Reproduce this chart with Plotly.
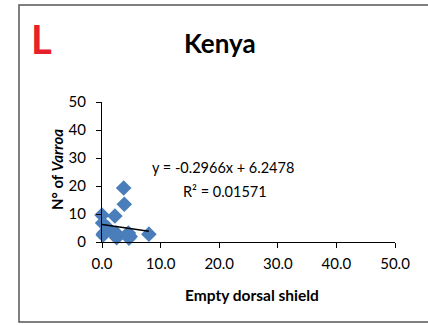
import plotly.graph_objects as go

# Data
empty_dorsal_shield = [0.0, 0.1, 0.3, 0.2, 1.0, 0.8, 0.5, 2.2, 2.4, 2.5, 2.3, 3.7, 3.8, 4.5, 4.6, 4.4, 4.8, 8.0]
n_varroa = [9.6, 6.8, 3.0, 2.5, 5.0, 4.0, 3.5, 9.3, 3.2, 1.5, 2.5, 19.3, 13.5, 3.2, 1.4, 2.5, 2.0, 2.8]
trend_slope = -0.2966
trend_intercept = 6.2478
r_squared = 0.01571
x_ticks = [0, 10, 20, 30, 40, 50]
x_tick_labels = ["0.0", "10.0", "20.0", "30.0", "40.0", "50.0"]
y_ticks = [0, 10, 20, 30, 40, 50]

FONT = "Lato"
W, H = 428, 325
L, R, T, B = 102, 33, 102, 83
pw, ph = W - L - R, H - T - B

def px(xpix):
    return (xpix - L) / pw

def py(ypix):
    return (H - B - ypix) / ph

trend_x = [min(empty_dorsal_shield), max(empty_dorsal_shield)]
trend_y = [trend_slope * v + trend_intercept for v in trend_x]

fig = go.Figure()
fig.add_trace(go.Scatter(
    x=empty_dorsal_shield, y=n_varroa, mode="markers",
    marker=dict(symbol="diamond", size=12, color="#4A7EBB"),
    showlegend=False, cliponaxis=False,
))
fig.add_trace(go.Scatter(
    x=trend_x, y=trend_y, mode="lines",
    line=dict(color="black", width=1.5), showlegend=False,
))

fig.update_layout(
    width=W, height=H,
    margin=dict(l=L, r=R, t=T, b=B),
    paper_bgcolor="white", plot_bgcolor="white",
    font=dict(family=FONT, size=15, color="black"),
    xaxis=dict(range=[0, 50], tickvals=x_ticks, ticktext=x_tick_labels,
               showgrid=False, zeroline=False, showline=True, linecolor="black",
               linewidth=1, ticks="outside", ticklen=5, tickcolor="black",
               ticklabelstandoff=3, tickfont=dict(size=15)),
    yaxis=dict(range=[0, 50], tickvals=y_ticks,
               showgrid=False, zeroline=False, showline=True, linecolor="black",
               linewidth=1, ticks="outside", ticklen=5, tickcolor="black",
               ticklabelstandoff=7, tickfont=dict(size=15)),
    shapes=[dict(type="rect", xref="paper", yref="paper",
                 x0=px(19), x1=px(432), y0=py(322), y1=py(5),
                 line=dict(color="#555555", width=1.5), fillcolor="rgba(0,0,0,0)")],
)

def note(text, xp, yp, size, **kw):
    color = kw.pop("color", "black")
    fig.add_annotation(text=text, x=px(xp), y=py(yp), xref="paper", yref="paper",
                       xanchor="center", yanchor="middle", showarrow=False,
                       font=dict(size=size, family=FONT, color=color), **kw)

note(f"y = {trend_slope}x + {trend_intercept}", 223, 167, 14.5)
note(f"R² = {r_squared}", 225, 191, 14.5)
note("<b>Kenya</b>", 220, 43, 26)
note("<b>L</b>", 41, 39, 40, color="#E8202A")
note("<b>Empty dorsal shield</b>", 252, 295, 15.5)
note("<b>N° of <i>Varroa</i></b>", 57, 170, 15, textangle=-90)

fig.write_html("out.html", config={"displayModeBar": False},
               post_script="document.body.style.margin='0';document.body.style.overflow='hidden';")
